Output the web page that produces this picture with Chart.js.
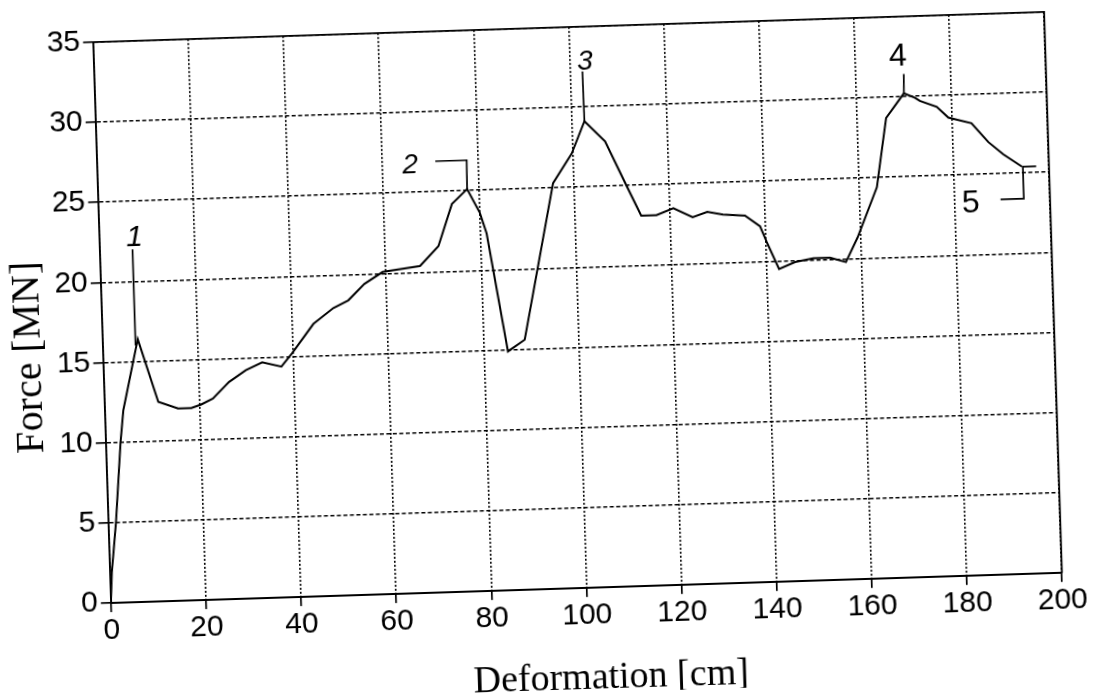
<!DOCTYPE html>
<html><head><meta charset="utf-8">
<script src="https://cdn.jsdelivr.net/npm/chart.js@4.4.1/dist/chart.umd.min.js"></script>
<style>
html,body{margin:0;padding:0;background:#fff;overflow:hidden;width:1097px;height:693px;}
#wrap{position:absolute;left:0;top:0;width:1097px;height:693px;transform-origin:577.5px 307.5px;transform:rotate(-1.82deg);}
canvas{display:block;}
</style></head><body>
<div id="wrap"><canvas id="c" width="1097" height="693"></canvas></div>
<script>
// ---- data ----
const deformation = [0,0.4,1.6,3.1,3.9,7.4,11.3,15.4,18.2,20.3,22.8,26.3,29.9,33.4,37.4,39.7,44.4,48.7,51.9,55.4,59.3,67.2,71.2,74.3,77.6,80.1,81.4,85.1,88.7,95.7,99.8,102.7,106.9,110.8,114.0,117.2,120.8,124.8,127.9,131.2,135.8,138.9,140.2,142.6,146.0,149.9,153.4,156.7,159.3,163.7,166.1,170.0,172.3,173.3,176.8,179.2,184.0,187.4,190.5,194.3];
const force =       [0,1.9,5.0,10.0,12.0,16.4,12.45,12.0,12.0,12.2,12.55,13.55,14.25,14.7,14.4,15.2,17.0,17.95,18.4,19.4,20.1,20.4,21.6,24.2,25.1,23.6,22.3,14.9,15.6,25.3,27.1,29.1,27.8,25.2,23.1,23.1,23.5,22.9,23.2,23.0,22.9,22.2,21.2,19.5,19.9,20.1,20.1,19.8,21.3,24.4,28.7,30.2,29.9,29.7,29.3,28.6,28.2,27.0,26.2,25.4];

const xTicks = [0,20,40,60,80,100,120,140,160,180,200];
const yTicks = [0,5,10,15,20,25,30,35];
const xTitle = 'Deformation [cm]';
const yTitle = 'Force [MN]';

// annotation leader lines (data space)
const marker1X = [6.9,6.9],            marker1Y = [16.0,22.0];
const marker2X = [77.6,77.7,71.1],     marker2Y = [25.1,26.9,26.9];
const marker3X = [102.7,102.6],        marker3Y = [29.1,32.2];
const marker4X = [170.0,170.1],        marker4Y = [30.2,31.4];
const marker5X = [197.3,194.5,194.5,189.6], marker5Y = [25.4,25.4,23.4,23.4];

const markerLabels = ['1','2','3','4','5'];
const markerLabelX = [7.35,65.8,103.2,169.0,183.3];
const markerLabelY = [22.7,26.7,32.8,32.5,23.2];

// ---- helpers ----
const pts = (xs, ys) => xs.map((x, i) => ({x: x, y: ys[i]}));
const lineDs = (xs, ys, w) => ({data: pts(xs, ys), showLine: true, borderColor: '#000', borderWidth: w, pointRadius: 0, tension: 0, fill: false});

const framePlugin = {
  id: 'frame',
  afterDraw(chart) {
    const {ctx, chartArea: a} = chart;
    ctx.save();
    ctx.strokeStyle = '#000';
    ctx.lineWidth = 1.8;
    ctx.beginPath();
    ctx.moveTo(a.left, a.top); ctx.lineTo(a.right, a.top); ctx.lineTo(a.right, a.bottom);
    ctx.stroke();
    // axis titles
    ctx.fillStyle = '#000';
    ctx.textAlign = 'center';
    ctx.textBaseline = 'alphabetic';
    ctx.font = '38px "Liberation Serif", "Times New Roman", serif';
    ctx.fillText(xTitle, (a.left + a.right) / 2 + 21.9, a.bottom + 100.9);
    ctx.save();
    ctx.translate(a.left - 62.3, (a.top + a.bottom) / 2 + 32.6);
    ctx.rotate(-Math.PI / 2);
    ctx.font = '40px "Liberation Serif", "Times New Roman", serif';
    ctx.fillText(yTitle, 0, 0);
    ctx.restore();
    // marker labels
    const xs = chart.scales.x, ys = chart.scales.y;
    ctx.textBaseline = 'middle';
    const styles = ['italic 30px', 'italic 28px', 'italic 28px', '32px', '32px'];
    markerLabels.forEach((t, i) => {
      ctx.font = styles[i] + ' "Liberation Sans", Arial, sans-serif';
      ctx.fillText(t, xs.getPixelForValue(markerLabelX[i]), ys.getPixelForValue(markerLabelY[i]));
    });
    ctx.restore();
  }
};

const tickFont = {family: '"Liberation Sans", Arial, sans-serif', size: 30, lineHeight: 1};

new Chart(document.getElementById('c'), {
  type: 'scatter',
  data: {
    datasets: [
      lineDs(deformation, force, 2),
      lineDs(marker1X, marker1Y, 1.7),
      lineDs(marker2X, marker2Y, 1.7),
      lineDs(marker3X, marker3Y, 1.7),
      lineDs(marker4X, marker4Y, 1.7),
      lineDs(marker5X, marker5Y, 1.7)
    ]
  },
  options: {
    responsive: false,
    animation: false,
    devicePixelRatio: 1,
    layout: {padding: {left: 0, top: 26.85, right: 43.75, bottom: 0}, autoPadding: false},
    plugins: {legend: {display: false}, tooltip: {enabled: false}},
    scales: {
      x: {
        type: 'linear', min: 0, max: 200,
        afterBuildTicks: s => { s.ticks = xTicks.map(v => ({value: v})); },
        afterFit: s => { s.height = 104.85; },
        ticks: {font: tickFont, color: '#000', padding: 4, maxRotation: 0, autoSkip: false},
        grid: {color: '#000', lineWidth: 1.6, tickLength: 9, tickWidth: 1.7, tickColor: '#000'},
        border: {display: true, color: '#000', width: 1.9, dash: [2, 2]}
      },
      y: {
        type: 'linear', min: 0, max: 35,
        afterBuildTicks: s => { s.ticks = yTicks.map(v => ({value: v})); },
        afterFit: s => { s.width = 101.75; },
        ticks: {font: tickFont, color: '#000', padding: 3, autoSkip: false},
        grid: {color: '#000', lineWidth: 1.6, tickLength: 10, tickWidth: 1.7, tickColor: '#000'},
        border: {display: true, color: '#000', width: 1.9, dash: [4, 2.5]}
      }
    }
  },
  plugins: [framePlugin]
});
</script>
</body></html>
